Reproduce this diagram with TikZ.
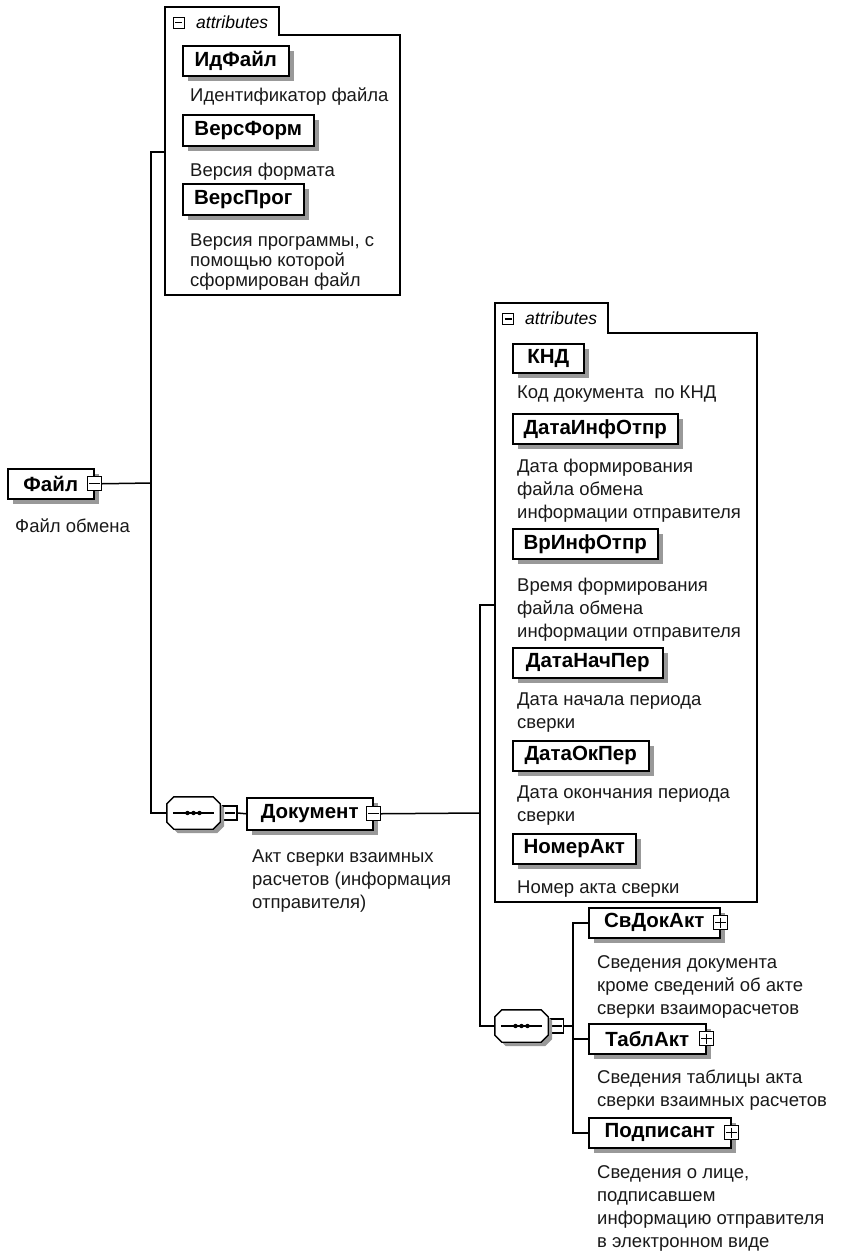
\documentclass[tikz,border=0pt]{standalone}
\usepackage{fontspec}
\setmainfont{Liberation Sans}
\usetikzlibrary{shadows}
\newcommand\octagonat[1]{%
  \filldraw[seqline, fill=white, drop shadow={shadow xshift=4pt, shadow yshift=-4pt, fill=black!40, opacity=1}]
    ([xshift=7pt]#1.north west) -- ([xshift=-7pt]#1.north east) -- ([yshift=-7pt]#1.north east) --
    ([yshift=7pt]#1.south east) -- ([xshift=-7pt]#1.south east) -- ([xshift=7pt]#1.south west) --
    ([yshift=7pt]#1.south west) -- ([yshift=-7pt]#1.north west) -- cycle;
  \draw[line width=1.3pt] ([xshift=6pt]#1.west) -- ([xshift=-6pt]#1.east);
  \fill (#1.center) circle (2.2pt) ([xshift=-6pt]#1.center) circle (2.2pt) ([xshift=6pt]#1.center) circle (2.2pt);}
\newcommand\minusin[1]{\draw[line width=1.1pt] ([xshift=2.5pt]#1.west) -- ([xshift=-2.5pt]#1.east);}
\newcommand\plusin[1]{\draw[line width=1.1pt] ([xshift=2.5pt]#1.west) -- ([xshift=-2.5pt]#1.east) ([yshift=-2.5pt]#1.north) -- ([yshift=2.5pt]#1.south);}
\begin{document}
\begin{tikzpicture}[x=1pt,y=-1pt,
  elem/.style={draw, line width=1.5pt, fill=white, anchor=north west, inner sep=0pt,
    font=\bfseries\fontsize{20.5}{22}\selectfont,
    drop shadow={shadow xshift=5pt, shadow yshift=-5pt, fill=black!40, opacity=1}},
  desc/.style={anchor=north west, inner sep=0pt, align=left, font=\fontsize{18.5}{23}\selectfont, text=black!90},
  desctight/.style={desc, font=\fontsize{18.5}{20}\selectfont},
  mbox/.style={draw, fill=white, line width=1.1pt, minimum size=14pt, inner sep=0pt},
  tbox/.style={draw, fill=white, line width=1pt, minimum size=11pt, inner sep=0pt},
  conn/.style={line width=1.5pt},
  frame/.style={line width=1.4pt},
  seqline/.style={line width=1.4pt},
  seqn/.style={minimum width=53pt, minimum height=32pt, inner sep=0pt},
  tablbl/.style={anchor=west, inner sep=0pt, font=\itshape\fontsize{17.5}{19}\selectfont}]
\useasboundingbox (0,0) rectangle (841,1258);

% ---------- top attributes group ----------
\draw[frame] (165,7) -- (279,7) -- (279,35) -- (400,35) -- (400,295) -- (165,295) -- cycle;
\node[tbox] (t1m) at (178.5,22.5) {}; \minusin{t1m}
\node[tablbl] (t1l) at (196,22) {attributes};
\node[elem, minimum width=106pt, minimum height=30pt] (idf) at (182,45) {ИдФайл};
\node[desc] (idfd) at (190,85) {\rule{0pt}{16pt}Идентификатор файла};
\node[elem, minimum width=131pt, minimum height=31pt] (vform) at (182,114) {ВерсФорм};
\node[desc] (vformd) at (190,160) {\rule{0pt}{16pt}Версия формата};
\node[elem, minimum width=121pt, minimum height=31pt] (vprog) at (182,183) {ВерсПрог};
\node[desctight] (vprogd) at (190,230) {\rule{0pt}{16pt}Версия программы, с\\помощью которой\\сформирован файл};

% ---------- root ----------
\node[elem, minimum width=86pt, minimum height=30pt] (file) at (7,468) {Файл};
\node[mbox] (filem) at (file.east) {}; \minusin{filem}
\node[desc] (filed) at (15,516) {\rule{0pt}{16pt}Файл обмена};

% ---------- sequence 1 ----------
\node[seqn] (seq1) at (193.5,813) {};
\node[mbox] (seq1m) at (230,813) {}; \minusin{seq1m}
\node[elem, minimum width=126pt, minimum height=32pt] (doc) at (246,797) {Документ};
\node[mbox] (docm) at (doc.east) {}; \minusin{docm}
\node[desc] (docd) at (252,846) {\rule{0pt}{16pt}Акт сверки взаимных\\расчетов (информация\\отправителя)};

\coordinate (j1) at (151,483);
\coordinate (a1in) at (165,152);
\draw[conn] (filem.east) -- (j1);
\draw[conn] (j1) |- (a1in);
\draw[conn] (j1) |- (seq1.west);
\draw[conn] (seq1.east) -- (seq1m.west);
\draw[conn] (seq1m.east) -- (doc.west);
\octagonat{seq1}

% ---------- second attributes group ----------
\draw[frame] (495,303) -- (608,303) -- (608,333) -- (757,333) -- (757,902) -- (495,902) -- cycle;
\node[tbox] (t2m) at (508,319) {}; \minusin{t2m}
\node[tablbl] (t2l) at (525,318) {attributes};
\node[elem, minimum width=71pt, minimum height=29pt] (knd) at (512,343) {КНД};
\node[desc] (kndd) at (517,382) {\rule{0pt}{16pt}Код документа\ \ по КНД};
\node[elem, minimum width=165pt, minimum height=30pt] (dio) at (512,413) {ДатаИнфОтпр};
\node[desc] (diod) at (517,456) {\rule{0pt}{16pt}Дата формирования\\файла обмена\\информации отправителя};
\node[elem, minimum width=145pt, minimum height=30pt] (vio) at (512,528) {ВрИнфОтпр};
\node[desc] (viod) at (517,575) {\rule{0pt}{16pt}Время формирования\\файла обмена\\информации отправителя};
\node[elem, minimum width=150pt, minimum height=30pt] (dnp) at (512,647) {ДатаНачПер};
\node[desc] (dnpd) at (517,689) {\rule{0pt}{16pt}Дата начала периода\\сверки};
\node[elem, minimum width=136pt, minimum height=30pt] (dop) at (512,740) {ДатаОкПер};
\node[desc] (dopd) at (517,782) {\rule{0pt}{16pt}Дата окончания периода\\сверки};
\node[elem, minimum width=123pt, minimum height=30pt] (nakt) at (512,833) {НомерАкт};
\node[desc] (naktd) at (517,877) {\rule{0pt}{16pt}Номер акта сверки};

% ---------- sequence 2 ----------
\node[seqn] (seq2) at (521.5,1026) {};
\node[mbox] (seq2m) at (556.5,1026) {}; \minusin{seq2m}
\node[elem, minimum width=131pt, minimum height=30pt] (svdok) at (588,907) {СвДокАкт};
\node[mbox] (svdokp) at (svdok.east) {}; \plusin{svdokp}
\node[desc] (svdokd) at (597,952) {\rule{0pt}{16pt}Сведения документа\\кроме сведений об акте\\сверки взаиморасчетов};
\node[elem, minimum width=117pt, minimum height=30pt] (tabl) at (588,1023) {ТаблАкт};
\node[mbox] (tablp) at (tabl.east) {}; \plusin{tablp}
\node[desc] (tabld) at (597,1067) {\rule{0pt}{16pt}Сведения таблицы акта\\сверки взаимных расчетов};
\node[elem, minimum width=142pt, minimum height=30pt] (podp) at (588,1117) {Подписант};
\node[mbox] (podpp) at (podp.east) {}; \plusin{podpp}
\node[desc] (podpd) at (597,1162) {\rule{0pt}{16pt}Сведения о лице,\\подписавшем\\информацию отправителя\\в электронном виде};

\coordinate (j2) at (480,813);
\coordinate (a2in) at (495,605);
\coordinate (j3) at (573,1026);
\draw[conn] (docm.east) -- (j2);
\draw[conn] (j2) |- (a2in);
\draw[conn] (j2) |- (seq2.west);
\draw[conn] (seq2.east) -- (seq2m.west);
\draw[conn] (seq2m.east) -- (j3);
\draw[conn] (j3) |- (svdok.west);
\draw[conn] (j3) |- (tabl.west);
\draw[conn] (j3) |- (podp.west);
\octagonat{seq2}
\end{tikzpicture}
\end{document}
